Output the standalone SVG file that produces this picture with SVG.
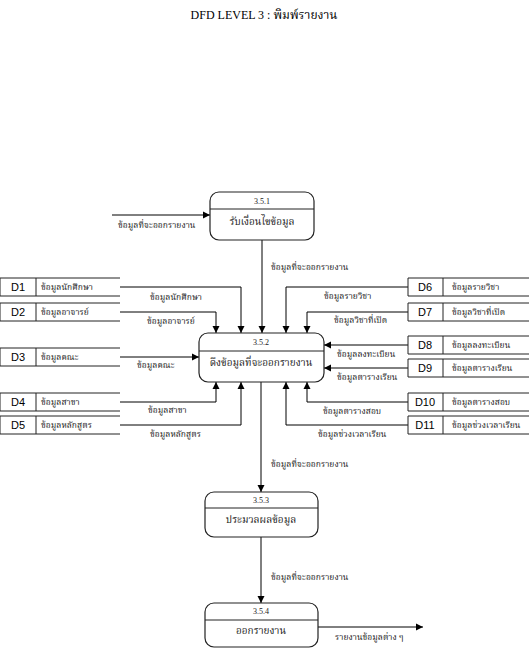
<svg xmlns="http://www.w3.org/2000/svg" width="529" height="652" viewBox="0 0 529 652">
<defs>
<marker id="ah" markerWidth="8" markerHeight="8" refX="7" refY="4" orient="auto" markerUnits="userSpaceOnUse">
<path d="M0,0.5 L7,4 L0,7.5 Z" fill="#000"/>
</marker>
<style>
.box{fill:#fff;stroke:#222;stroke-width:1.2}
.div{stroke:#222;stroke-width:1}
.num{font-family:"Liberation Serif",Norasi,Kinnari,"Noto Serif Thai","Noto Sans Thai",serif;font-size:8px;text-anchor:middle;fill:#222}
.pt{font-family:"Liberation Serif",Norasi,Kinnari,"Noto Serif Thai","Noto Sans Thai",serif;font-size:10px;text-anchor:middle;fill:#222}
.lb{font-family:"Liberation Serif",Norasi,Kinnari,"Noto Serif Thai","Noto Sans Thai",serif;font-size:8.5px;fill:#222}
.ds{font-family:"Liberation Sans",Arial,sans-serif;font-size:11px;text-anchor:middle}
.st{fill:none;stroke:#222;stroke-width:1}
.cn{fill:none;stroke:#000;stroke-width:1;marker-end:url(#ah)}
</style>
</defs>
<rect width="529" height="652" fill="#fff"/>
<text x="264" y="19" font-family="'Liberation Serif',Norasi,Kinnari,'Noto Serif Thai','Noto Sans Thai',serif" font-size="12" text-anchor="middle">DFD LEVEL 3 : พิมพ์รายงาน</text>

<g id="connectors">
<path class="cn" d="M112,215 H210"/>
<path class="cn" d="M262,240 V333"/>
<path class="cn" d="M120,287 H241 V333"/>
<path class="cn" d="M120,312 H216 V333"/>
<path class="cn" d="M120,357 H199"/>
<path class="cn" d="M120,402 H216 V382"/>
<path class="cn" d="M120,425 H241 V382"/>
<path class="cn" d="M408,287 H286 V333"/>
<path class="cn" d="M408,312 H307 V333"/>
<path class="cn" d="M408,345 H324"/>
<path class="cn" d="M408,368 H324"/>
<path class="cn" d="M408,402 H307 V382"/>
<path class="cn" d="M408,425 H286 V382"/>
<path class="cn" d="M261,382 V492"/>
<path class="cn" d="M261,537 V603"/>
<path class="cn" d="M318,627 H423"/>
<text class="lb" x="118" y="228">ข้อมูลที่จะออกรายงาน</text>
<text class="lb" x="271" y="270">ข้อมูลที่จะออกรายงาน</text>
<text class="lb" x="150" y="300">ข้อมูลนักศึกษา</text>
<text class="lb" x="147" y="324">ข้อมูลอาจารย์</text>
<text class="lb" x="137" y="368">ข้อมูลคณะ</text>
<text class="lb" x="148" y="413">ข้อมูลสาขา</text>
<text class="lb" x="150" y="437">ข้อมูลหลักสูตร</text>
<text class="lb" x="324" y="299">ข้อมูลรายวิชา</text>
<text class="lb" x="334" y="323">ข้อมูลวิชาที่เปิด</text>
<text class="lb" x="337" y="357">ข้อมูลลงทะเบียน</text>
<text class="lb" x="337" y="380">ข้อมูลตารางเรียน</text>
<text class="lb" x="323" y="414">ข้อมูลตารางสอบ</text>
<text class="lb" x="318" y="437">ข้อมูลช่วงเวลาเรียน</text>
<text class="lb" x="271" y="467">ข้อมูลที่จะออกรายงาน</text>
<text class="lb" x="271" y="580">ข้อมูลที่จะออกรายงาน</text>
<text class="lb" x="335" y="640">รายงานข้อมูลต่าง ๆ</text>
</g>

<g id="p351">
<rect class="box" x="210" y="192" width="104" height="48" rx="9"/>
<line class="div" x1="210" y1="209" x2="314" y2="209"/>
<text class="num" x="262" y="204">3.5.1</text>
<text class="pt" x="262" y="225">รับเงื่อนไขข้อมูล</text>
</g>
<g id="p352">
<rect class="box" x="199" y="333" width="125" height="49" rx="9"/>
<line class="div" x1="199" y1="351" x2="324" y2="351"/>
<text class="num" x="261" y="345">3.5.2</text>
<text class="pt" x="261" y="366">ดึงข้อมูลที่จะออกรายงาน</text>
</g>
<g id="p353">
<rect class="box" x="205" y="492" width="113" height="45" rx="9"/>
<line class="div" x1="205" y1="508" x2="318" y2="508"/>
<text class="num" x="261" y="503">3.5.3</text>
<text class="pt" x="261" y="523">ประมวลผลข้อมูล</text>
</g>
<g id="p354">
<rect class="box" x="205" y="603" width="113" height="44" rx="9"/>
<line class="div" x1="205" y1="620" x2="318" y2="620"/>
<text class="num" x="261" y="614">3.5.4</text>
<text class="pt" x="261" y="634">ออกรายงาน</text>
</g>

<g id="D1"><path class="st" d="M120,278 H0 V296 H120 M36,278 V296"/><text class="ds" x="18" y="291">D1</text><text class="lb" x="41" y="290">ข้อมูลนักศึกษา</text></g>
<g id="D2"><path class="st" d="M120,303 H0 V321 H120 M36,303 V321"/><text class="ds" x="18" y="316">D2</text><text class="lb" x="41" y="315">ข้อมูลอาจารย์</text></g>
<g id="D3"><path class="st" d="M120,348 H0 V366 H120 M36,348 V366"/><text class="ds" x="18" y="361">D3</text><text class="lb" x="41" y="360">ข้อมูลคณะ</text></g>
<g id="D4"><path class="st" d="M120,393 H0 V411 H120 M36,393 V411"/><text class="ds" x="18" y="406">D4</text><text class="lb" x="41" y="405">ข้อมูลสาขา</text></g>
<g id="D5"><path class="st" d="M120,416 H0 V434 H120 M36,416 V434"/><text class="ds" x="18" y="429">D5</text><text class="lb" x="41" y="428">ข้อมูลหลักสูตร</text></g>

<g id="D6"><path class="st" d="M529,278 H408 V296 H529 M443,278 V296"/><text class="ds" x="425" y="291">D6</text><text class="lb" x="452" y="290">ข้อมูลรายวิชา</text></g>
<g id="D7"><path class="st" d="M529,303 H408 V321 H529 M443,303 V321"/><text class="ds" x="425" y="316">D7</text><text class="lb" x="452" y="315">ข้อมูลวิชาที่เปิด</text></g>
<g id="D8"><path class="st" d="M529,336 H408 V354 H529 M443,336 V354"/><text class="ds" x="425" y="349">D8</text><text class="lb" x="452" y="348">ข้อมูลลงทะเบียน</text></g>
<g id="D9"><path class="st" d="M529,359 H408 V377 H529 M443,359 V377"/><text class="ds" x="425" y="372">D9</text><text class="lb" x="452" y="371">ข้อมูลตารางเรียน</text></g>
<g id="D10"><path class="st" d="M529,393 H408 V411 H529 M443,393 V411"/><text class="ds" x="425" y="406">D10</text><text class="lb" x="452" y="405">ข้อมูลตารางสอบ</text></g>
<g id="D11"><path class="st" d="M529,416 H408 V434 H529 M443,416 V434"/><text class="ds" x="425" y="429">D11</text><text class="lb" x="452" y="428">ข้อมูลช่วงเวลาเรียน</text></g>
</svg>
